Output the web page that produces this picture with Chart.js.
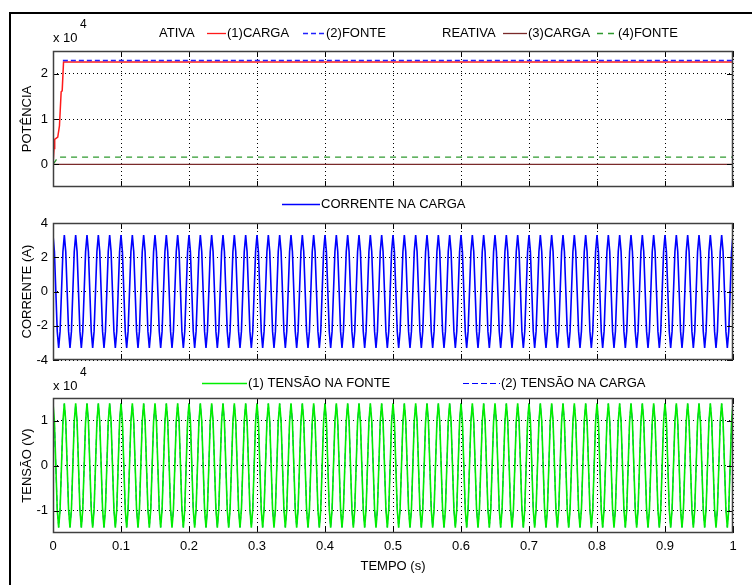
<!DOCTYPE html>
<html>
<head>
<meta charset="utf-8">
<script src="https://cdn.jsdelivr.net/npm/chart.js@4.4.1/dist/chart.umd.min.js"></script>
<style>
  html, body { margin: 0; padding: 0; background: #fff; }
  #fig { position: relative; width: 752px; height: 585px; overflow: hidden; background: #fff; }
  #fig canvas { position: absolute; left: 0; top: 0; }
  #frame { position: absolute; left: 9px; top: 12px; width: 760px; height: 600px;
           border-top: 2px solid #000; border-left: 2px solid #000; }
</style>
</head>
<body>
<div id="fig">
  <div id="frame"></div>
  <canvas id="cPot" width="752" height="585"></canvas>
  <canvas id="cCor" width="752" height="585"></canvas>
  <canvas id="cTen" width="752" height="585"></canvas>
</div>
<script>
// ---- time axis -------------------------------------------------------------
const timeTicks = [0, 0.1, 0.2, 0.3, 0.4, 0.5, 0.6, 0.7, 0.8, 0.9, 1];
const timeTickLabels = ['0', '0.1', '0.2', '0.3', '0.4', '0.5', '0.6', '0.7', '0.8', '0.9', '1'];
const SAMPLE_RATE = 480; // samples per second of the waveform records (8 per 60 Hz cycle)

// ---- power (x 10^4) --------------------------------------------------------
const potenciaTicks = [0, 1, 2];
const ativaCargaT = [0, 0.0015, 0.0025, 0.007, 0.0095, 0.012, 0.0135, 0.0155, 1];
const ativaCargaP = [0, 0.35, 0.55, 0.6, 0.85, 1.6, 1.62, 2.26, 2.26];
const ativaFonteT = [0.0145, 1];
const ativaFonteP = [2.29, 2.29];
const reativaCargaT = [0, 1];
const reativaCargaP = [0, 0];
const reativaFonteT = [0, 0.004, 0.007, 1];
const reativaFonteP = [0, 0.08, 0.16, 0.16];

// ---- load current (A), one row = 0.05 s ------------------------------------
const correnteTicks = [-4, -2, 0, 2, 4];
const correnteCarga = [
  /* 0.00 */ 3.3,2.33,0,-2.33,-3.3,-2.33,0,2.33, 3.3,2.33,0,-2.33,-3.3,-2.33,0,2.33, 3.3,2.33,0,-2.33,-3.3,-2.33,0,2.33,
  /* 0.05 */ 3.3,2.33,0,-2.33,-3.3,-2.33,0,2.33, 3.3,2.33,0,-2.33,-3.3,-2.33,0,2.33, 3.3,2.33,0,-2.33,-3.3,-2.33,0,2.33,
  /* 0.10 */ 3.3,2.33,0,-2.33,-3.3,-2.33,0,2.33, 3.3,2.33,0,-2.33,-3.3,-2.33,0,2.33, 3.3,2.33,0,-2.33,-3.3,-2.33,0,2.33,
  /* 0.15 */ 3.3,2.33,0,-2.33,-3.3,-2.33,0,2.33, 3.3,2.33,0,-2.33,-3.3,-2.33,0,2.33, 3.3,2.33,0,-2.33,-3.3,-2.33,0,2.33,
  /* 0.20 */ 3.3,2.33,0,-2.33,-3.3,-2.33,0,2.33, 3.3,2.33,0,-2.33,-3.3,-2.33,0,2.33, 3.3,2.33,0,-2.33,-3.3,-2.33,0,2.33,
  /* 0.25 */ 3.3,2.33,0,-2.33,-3.3,-2.33,0,2.33, 3.3,2.33,0,-2.33,-3.3,-2.33,0,2.33, 3.3,2.33,0,-2.33,-3.3,-2.33,0,2.33,
  /* 0.30 */ 3.3,2.33,0,-2.33,-3.3,-2.33,0,2.33, 3.3,2.33,0,-2.33,-3.3,-2.33,0,2.33, 3.3,2.33,0,-2.33,-3.3,-2.33,0,2.33,
  /* 0.35 */ 3.3,2.33,0,-2.33,-3.3,-2.33,0,2.33, 3.3,2.33,0,-2.33,-3.3,-2.33,0,2.33, 3.3,2.33,0,-2.33,-3.3,-2.33,0,2.33,
  /* 0.40 */ 3.3,2.33,0,-2.33,-3.3,-2.33,0,2.33, 3.3,2.33,0,-2.33,-3.3,-2.33,0,2.33, 3.3,2.33,0,-2.33,-3.3,-2.33,0,2.33,
  /* 0.45 */ 3.3,2.33,0,-2.33,-3.3,-2.33,0,2.33, 3.3,2.33,0,-2.33,-3.3,-2.33,0,2.33, 3.3,2.33,0,-2.33,-3.3,-2.33,0,2.33,
  /* 0.50 */ 3.3,2.33,0,-2.33,-3.3,-2.33,0,2.33, 3.3,2.33,0,-2.33,-3.3,-2.33,0,2.33, 3.3,2.33,0,-2.33,-3.3,-2.33,0,2.33,
  /* 0.55 */ 3.3,2.33,0,-2.33,-3.3,-2.33,0,2.33, 3.3,2.33,0,-2.33,-3.3,-2.33,0,2.33, 3.3,2.33,0,-2.33,-3.3,-2.33,0,2.33,
  /* 0.60 */ 3.3,2.33,0,-2.33,-3.3,-2.33,0,2.33, 3.3,2.33,0,-2.33,-3.3,-2.33,0,2.33, 3.3,2.33,0,-2.33,-3.3,-2.33,0,2.33,
  /* 0.65 */ 3.3,2.33,0,-2.33,-3.3,-2.33,0,2.33, 3.3,2.33,0,-2.33,-3.3,-2.33,0,2.33, 3.3,2.33,0,-2.33,-3.3,-2.33,0,2.33,
  /* 0.70 */ 3.3,2.33,0,-2.33,-3.3,-2.33,0,2.33, 3.3,2.33,0,-2.33,-3.3,-2.33,0,2.33, 3.3,2.33,0,-2.33,-3.3,-2.33,0,2.33,
  /* 0.75 */ 3.3,2.33,0,-2.33,-3.3,-2.33,0,2.33, 3.3,2.33,0,-2.33,-3.3,-2.33,0,2.33, 3.3,2.33,0,-2.33,-3.3,-2.33,0,2.33,
  /* 0.80 */ 3.3,2.33,0,-2.33,-3.3,-2.33,0,2.33, 3.3,2.33,0,-2.33,-3.3,-2.33,0,2.33, 3.3,2.33,0,-2.33,-3.3,-2.33,0,2.33,
  /* 0.85 */ 3.3,2.33,0,-2.33,-3.3,-2.33,0,2.33, 3.3,2.33,0,-2.33,-3.3,-2.33,0,2.33, 3.3,2.33,0,-2.33,-3.3,-2.33,0,2.33,
  /* 0.90 */ 3.3,2.33,0,-2.33,-3.3,-2.33,0,2.33, 3.3,2.33,0,-2.33,-3.3,-2.33,0,2.33, 3.3,2.33,0,-2.33,-3.3,-2.33,0,2.33,
  /* 0.95 */ 3.3,2.33,0,-2.33,-3.3,-2.33,0,2.33, 3.3,2.33,0,-2.33,-3.3,-2.33,0,2.33, 3.3,2.33,0,-2.33,-3.3,-2.33,0,2.33,
  /* 1.00 */ 3.3
];

// ---- voltages (x 10^4 V), one row = 0.05 s ---------------------------------
const tensaoTicks = [-1, 0, 1];
const tensaoFonte = [
  /* 0.00 */ 1.38,0.98,0,-0.98,-1.38,-0.98,0,0.98, 1.38,0.98,0,-0.98,-1.38,-0.98,0,0.98, 1.38,0.98,0,-0.98,-1.38,-0.98,0,0.98,
  /* 0.05 */ 1.38,0.98,0,-0.98,-1.38,-0.98,0,0.98, 1.38,0.98,0,-0.98,-1.38,-0.98,0,0.98, 1.38,0.98,0,-0.98,-1.38,-0.98,0,0.98,
  /* 0.10 */ 1.38,0.98,0,-0.98,-1.38,-0.98,0,0.98, 1.38,0.98,0,-0.98,-1.38,-0.98,0,0.98, 1.38,0.98,0,-0.98,-1.38,-0.98,0,0.98,
  /* 0.15 */ 1.38,0.98,0,-0.98,-1.38,-0.98,0,0.98, 1.38,0.98,0,-0.98,-1.38,-0.98,0,0.98, 1.38,0.98,0,-0.98,-1.38,-0.98,0,0.98,
  /* 0.20 */ 1.38,0.98,0,-0.98,-1.38,-0.98,0,0.98, 1.38,0.98,0,-0.98,-1.38,-0.98,0,0.98, 1.38,0.98,0,-0.98,-1.38,-0.98,0,0.98,
  /* 0.25 */ 1.38,0.98,0,-0.98,-1.38,-0.98,0,0.98, 1.38,0.98,0,-0.98,-1.38,-0.98,0,0.98, 1.38,0.98,0,-0.98,-1.38,-0.98,0,0.98,
  /* 0.30 */ 1.38,0.98,0,-0.98,-1.38,-0.98,0,0.98, 1.38,0.98,0,-0.98,-1.38,-0.98,0,0.98, 1.38,0.98,0,-0.98,-1.38,-0.98,0,0.98,
  /* 0.35 */ 1.38,0.98,0,-0.98,-1.38,-0.98,0,0.98, 1.38,0.98,0,-0.98,-1.38,-0.98,0,0.98, 1.38,0.98,0,-0.98,-1.38,-0.98,0,0.98,
  /* 0.40 */ 1.38,0.98,0,-0.98,-1.38,-0.98,0,0.98, 1.38,0.98,0,-0.98,-1.38,-0.98,0,0.98, 1.38,0.98,0,-0.98,-1.38,-0.98,0,0.98,
  /* 0.45 */ 1.38,0.98,0,-0.98,-1.38,-0.98,0,0.98, 1.38,0.98,0,-0.98,-1.38,-0.98,0,0.98, 1.38,0.98,0,-0.98,-1.38,-0.98,0,0.98,
  /* 0.50 */ 1.38,0.98,0,-0.98,-1.38,-0.98,0,0.98, 1.38,0.98,0,-0.98,-1.38,-0.98,0,0.98, 1.38,0.98,0,-0.98,-1.38,-0.98,0,0.98,
  /* 0.55 */ 1.38,0.98,0,-0.98,-1.38,-0.98,0,0.98, 1.38,0.98,0,-0.98,-1.38,-0.98,0,0.98, 1.38,0.98,0,-0.98,-1.38,-0.98,0,0.98,
  /* 0.60 */ 1.38,0.98,0,-0.98,-1.38,-0.98,0,0.98, 1.38,0.98,0,-0.98,-1.38,-0.98,0,0.98, 1.38,0.98,0,-0.98,-1.38,-0.98,0,0.98,
  /* 0.65 */ 1.38,0.98,0,-0.98,-1.38,-0.98,0,0.98, 1.38,0.98,0,-0.98,-1.38,-0.98,0,0.98, 1.38,0.98,0,-0.98,-1.38,-0.98,0,0.98,
  /* 0.70 */ 1.38,0.98,0,-0.98,-1.38,-0.98,0,0.98, 1.38,0.98,0,-0.98,-1.38,-0.98,0,0.98, 1.38,0.98,0,-0.98,-1.38,-0.98,0,0.98,
  /* 0.75 */ 1.38,0.98,0,-0.98,-1.38,-0.98,0,0.98, 1.38,0.98,0,-0.98,-1.38,-0.98,0,0.98, 1.38,0.98,0,-0.98,-1.38,-0.98,0,0.98,
  /* 0.80 */ 1.38,0.98,0,-0.98,-1.38,-0.98,0,0.98, 1.38,0.98,0,-0.98,-1.38,-0.98,0,0.98, 1.38,0.98,0,-0.98,-1.38,-0.98,0,0.98,
  /* 0.85 */ 1.38,0.98,0,-0.98,-1.38,-0.98,0,0.98, 1.38,0.98,0,-0.98,-1.38,-0.98,0,0.98, 1.38,0.98,0,-0.98,-1.38,-0.98,0,0.98,
  /* 0.90 */ 1.38,0.98,0,-0.98,-1.38,-0.98,0,0.98, 1.38,0.98,0,-0.98,-1.38,-0.98,0,0.98, 1.38,0.98,0,-0.98,-1.38,-0.98,0,0.98,
  /* 0.95 */ 1.38,0.98,0,-0.98,-1.38,-0.98,0,0.98, 1.38,0.98,0,-0.98,-1.38,-0.98,0,0.98, 1.38,0.98,0,-0.98,-1.38,-0.98,0,0.98,
  /* 1.00 */ 1.38
];
const tensaoCarga = [
  /* 0.00 */ 0,0.97,0,-0.97,-1.37,-0.97,0,0.97, 1.37,0.97,0,-0.97,-1.37,-0.97,0,0.97, 1.37,0.97,0,-0.97,-1.37,-0.97,0,0.97,
  /* 0.05 */ 1.37,0.97,0,-0.97,-1.37,-0.97,0,0.97, 1.37,0.97,0,-0.97,-1.37,-0.97,0,0.97, 1.37,0.97,0,-0.97,-1.37,-0.97,0,0.97,
  /* 0.10 */ 1.37,0.97,0,-0.97,-1.37,-0.97,0,0.97, 1.37,0.97,0,-0.97,-1.37,-0.97,0,0.97, 1.37,0.97,0,-0.97,-1.37,-0.97,0,0.97,
  /* 0.15 */ 1.37,0.97,0,-0.97,-1.37,-0.97,0,0.97, 1.37,0.97,0,-0.97,-1.37,-0.97,0,0.97, 1.37,0.97,0,-0.97,-1.37,-0.97,0,0.97,
  /* 0.20 */ 1.37,0.97,0,-0.97,-1.37,-0.97,0,0.97, 1.37,0.97,0,-0.97,-1.37,-0.97,0,0.97, 1.37,0.97,0,-0.97,-1.37,-0.97,0,0.97,
  /* 0.25 */ 1.37,0.97,0,-0.97,-1.37,-0.97,0,0.97, 1.37,0.97,0,-0.97,-1.37,-0.97,0,0.97, 1.37,0.97,0,-0.97,-1.37,-0.97,0,0.97,
  /* 0.30 */ 1.37,0.97,0,-0.97,-1.37,-0.97,0,0.97, 1.37,0.97,0,-0.97,-1.37,-0.97,0,0.97, 1.37,0.97,0,-0.97,-1.37,-0.97,0,0.97,
  /* 0.35 */ 1.37,0.97,0,-0.97,-1.37,-0.97,0,0.97, 1.37,0.97,0,-0.97,-1.37,-0.97,0,0.97, 1.37,0.97,0,-0.97,-1.37,-0.97,0,0.97,
  /* 0.40 */ 1.37,0.97,0,-0.97,-1.37,-0.97,0,0.97, 1.37,0.97,0,-0.97,-1.37,-0.97,0,0.97, 1.37,0.97,0,-0.97,-1.37,-0.97,0,0.97,
  /* 0.45 */ 1.37,0.97,0,-0.97,-1.37,-0.97,0,0.97, 1.37,0.97,0,-0.97,-1.37,-0.97,0,0.97, 1.37,0.97,0,-0.97,-1.37,-0.97,0,0.97,
  /* 0.50 */ 1.37,0.97,0,-0.97,-1.37,-0.97,0,0.97, 1.37,0.97,0,-0.97,-1.37,-0.97,0,0.97, 1.37,0.97,0,-0.97,-1.37,-0.97,0,0.97,
  /* 0.55 */ 1.37,0.97,0,-0.97,-1.37,-0.97,0,0.97, 1.37,0.97,0,-0.97,-1.37,-0.97,0,0.97, 1.37,0.97,0,-0.97,-1.37,-0.97,0,0.97,
  /* 0.60 */ 1.37,0.97,0,-0.97,-1.37,-0.97,0,0.97, 1.37,0.97,0,-0.97,-1.37,-0.97,0,0.97, 1.37,0.97,0,-0.97,-1.37,-0.97,0,0.97,
  /* 0.65 */ 1.37,0.97,0,-0.97,-1.37,-0.97,0,0.97, 1.37,0.97,0,-0.97,-1.37,-0.97,0,0.97, 1.37,0.97,0,-0.97,-1.37,-0.97,0,0.97,
  /* 0.70 */ 1.37,0.97,0,-0.97,-1.37,-0.97,0,0.97, 1.37,0.97,0,-0.97,-1.37,-0.97,0,0.97, 1.37,0.97,0,-0.97,-1.37,-0.97,0,0.97,
  /* 0.75 */ 1.37,0.97,0,-0.97,-1.37,-0.97,0,0.97, 1.37,0.97,0,-0.97,-1.37,-0.97,0,0.97, 1.37,0.97,0,-0.97,-1.37,-0.97,0,0.97,
  /* 0.80 */ 1.37,0.97,0,-0.97,-1.37,-0.97,0,0.97, 1.37,0.97,0,-0.97,-1.37,-0.97,0,0.97, 1.37,0.97,0,-0.97,-1.37,-0.97,0,0.97,
  /* 0.85 */ 1.37,0.97,0,-0.97,-1.37,-0.97,0,0.97, 1.37,0.97,0,-0.97,-1.37,-0.97,0,0.97, 1.37,0.97,0,-0.97,-1.37,-0.97,0,0.97,
  /* 0.90 */ 1.37,0.97,0,-0.97,-1.37,-0.97,0,0.97, 1.37,0.97,0,-0.97,-1.37,-0.97,0,0.97, 1.37,0.97,0,-0.97,-1.37,-0.97,0,0.97,
  /* 0.95 */ 1.37,0.97,0,-0.97,-1.37,-0.97,0,0.97, 1.37,0.97,0,-0.97,-1.37,-0.97,0,0.97, 1.37,0.97,0,-0.97,-1.37,-0.97,0,0.97,
  /* 1.00 */ 1.37
];

// ---- helpers ---------------------------------------------------------------
const FAMILY = "'Liberation Sans', Arial, Helvetica, sans-serif";
const FONT = { family: FAMILY, size: 13 };

const pairs = (ts, vs) => ts.map((t, i) => ({ x: t, y: vs[i] }));
const sampled = vs => vs.map((v, i) => ({ x: i / SAMPLE_RATE, y: v }));

// Axes box with inward tick marks on all four sides
const boxPlugin = {
  id: 'axesBox',
  afterDatasetsDraw(chart) {
    const { ctx, chartArea: a, scales } = chart;
    const L = a.left + 0.5, R = a.right - 0.5, T = a.top + 0.5, B = a.bottom - 0.5;
    ctx.save();
    ctx.lineWidth = 1;
    ctx.strokeStyle = '#000';
    ctx.beginPath();
    for (const t of scales.x.ticks) {
      const px = Math.round(scales.x.getPixelForValue(t.value)) + 0.5;
      ctx.moveTo(px, a.top); ctx.lineTo(px, a.top + 6);
      ctx.moveTo(px, a.bottom); ctx.lineTo(px, a.bottom - 6);
    }
    for (const t of scales.y.ticks) {
      const py = Math.round(scales.y.getPixelForValue(t.value)) + 0.5;
      ctx.moveTo(a.left, py); ctx.lineTo(a.left + 6, py);
      ctx.moveTo(a.right, py); ctx.lineTo(a.right - 6, py);
    }
    ctx.stroke();
    ctx.strokeStyle = '#404040';
    ctx.lineWidth = 1.5;
    ctx.strokeRect(L, T, R - L, B - T);
    ctx.restore();
  }
};

// One-row legend drawn from the datasets' own styles and labels
const legendPlugin = {
  id: 'legendRow',
  afterDraw(chart, args, opts) {
    const ctx = chart.ctx;
    ctx.save();
    ctx.font = '13px ' + FAMILY;
    ctx.fillStyle = '#000';
    ctx.textBaseline = 'middle';
    for (const it of (opts.items || [])) {
      if (it.text) { ctx.fillText(it.text, it.x, opts.y); continue; }
      const ds = chart.data.datasets[it.dataset];
      ctx.strokeStyle = ds.borderColor;
      ctx.lineWidth = Math.min(ds.borderWidth, 1.3);
      ctx.setLineDash(ds.borderDash || []);
      ctx.beginPath();
      ctx.moveTo(it.x1, opts.y + 0.5);
      ctx.lineTo(it.x2, opts.y + 0.5);
      ctx.stroke();
      ctx.setLineDash([]);
      ctx.fillText(ds.label, it.x2 + 1, opts.y);
    }
    if (opts.exponent) {
      const e = opts.exponent;
      ctx.fillText('x 10', e.x, e.y);
      ctx.font = '12px ' + FAMILY;
      ctx.fillText('4', e.x + 27, e.y - 13);
    }
    ctx.restore();
  }
};

function xScale(showLabels, height) {
  return {
    type: 'linear', min: 0, max: 1,
    afterBuildTicks: s => { s.ticks = timeTicks.map(v => ({ value: v })); },
    afterFit: s => { s.height = height; },
    grid: { color: '#000', lineWidth: 1, drawTicks: false },
    border: { display: false, dash: [1, 3] },
    ticks: {
      display: showLabels, padding: 6, color: '#000', font: FONT,
      maxRotation: 0, autoSkip: false,
      callback: (v, i) => timeTickLabels[i]
    },
    title: showLabels
      ? { display: true, text: 'TEMPO (s)', color: '#000', font: FONT, padding: { top: 0, bottom: 11 } }
      : { display: false }
  };
}

function yScale(min, max, tickValues, title) {
  return {
    type: 'linear', min, max,
    afterBuildTicks: s => { s.ticks = tickValues.map(v => ({ value: v })); },
    afterFit: s => { s.width = 53; },
    grid: { color: '#000', lineWidth: 1, drawTicks: false },
    border: { display: false, dash: [1, 3] },
    ticks: { padding: 5, color: '#000', font: FONT, callback: v => String(v) },
    title: { display: true, text: title, color: '#000', font: FONT, padding: { top: 20, bottom: 0 } }
  };
}

function line(label, data, color, width, dash, order) {
  return {
    label, data, borderColor: color, borderWidth: width, borderDash: dash,
    pointRadius: 0, tension: 0, fill: false, order
  };
}

const common = {
  responsive: false, animation: false, events: [],
  devicePixelRatio: 1,
  plugins: { legend: { display: false }, tooltip: { enabled: false } }
};

// ---- POTÊNCIA -------------------------------------------------------------
new Chart(document.getElementById('cPot'), {
  type: 'line',
  data: {
    datasets: [
      line('(1)CARGA', pairs(ativaCargaT, ativaCargaP), '#ff1a1a', 1.5, [], 4),
      line('(2)FONTE', pairs(ativaFonteT, ativaFonteP), '#2020ff', 1.3, [5, 3], 3),
      line('(3)CARGA', pairs(reativaCargaT, reativaCargaP), '#7a2a2a', 1.3, [], 2),
      line('(4)FONTE', pairs(reativaFonteT, reativaFonteP), '#2f9a2f', 1.3, [6, 5], 1)
    ]
  },
  options: {
    ...common,
    layout: { padding: { top: 51, bottom: 398, left: 0, right: 19 } },
    scales: { x: xScale(false, 0), y: yScale(-0.5, 2.5, potenciaTicks, 'POTÊNCIA') },
    plugins: {
      ...common.plugins,
      legendRow: {
        y: 33,
        items: [
          { text: 'ATIVA', x: 159 },
          { dataset: 0, x1: 207, x2: 226 },
          { dataset: 1, x1: 303, x2: 325 },
          { text: 'REATIVA', x: 442 },
          { dataset: 2, x1: 503, x2: 527 },
          { dataset: 3, x1: 597, x2: 617 }
        ],
        exponent: { x: 53, y: 38 }
      }
    }
  },
  plugins: [boxPlugin, legendPlugin]
});

// ---- CORRENTE -------------------------------------------------------------
new Chart(document.getElementById('cCor'), {
  type: 'line',
  data: {
    datasets: [
      line('CORRENTE NA CARGA', sampled(correnteCarga), '#0000ff', 1.6, [], 1)
    ]
  },
  options: {
    ...common,
    layout: { padding: { top: 223, bottom: 225, left: 0, right: 19 } },
    scales: { x: xScale(false, 0), y: yScale(-4, 4, correnteTicks, 'CORRENTE (A)') },
    plugins: {
      ...common.plugins,
      legendRow: { y: 204, items: [{ dataset: 0, x1: 282, x2: 320 }] }
    }
  },
  plugins: [boxPlugin, legendPlugin]
});

// ---- TENSÃO ---------------------------------------------------------------
new Chart(document.getElementById('cTen'), {
  type: 'line',
  data: {
    datasets: [
      line('(1) TENSÃO NA FONTE', sampled(tensaoFonte), '#00ee00', 1.6, [], 1),
      line('(2) TENSÃO NA CARGA', sampled(tensaoCarga), '#0000ff', 1, [6, 3], 2)
    ]
  },
  options: {
    ...common,
    layout: { padding: { top: 398, bottom: 0, left: 0, right: 19 } },
    scales: { x: xScale(true, 52), y: yScale(-1.5, 1.5, tensaoTicks, 'TENSÃO (V)') },
    plugins: {
      ...common.plugins,
      legendRow: {
        y: 383,
        items: [
          { dataset: 0, x1: 202, x2: 247 },
          { dataset: 1, x1: 463, x2: 500 }
        ],
        exponent: { x: 53, y: 386 }
      }
    }
  },
  plugins: [boxPlugin, legendPlugin]
});
</script>
</body>
</html>
